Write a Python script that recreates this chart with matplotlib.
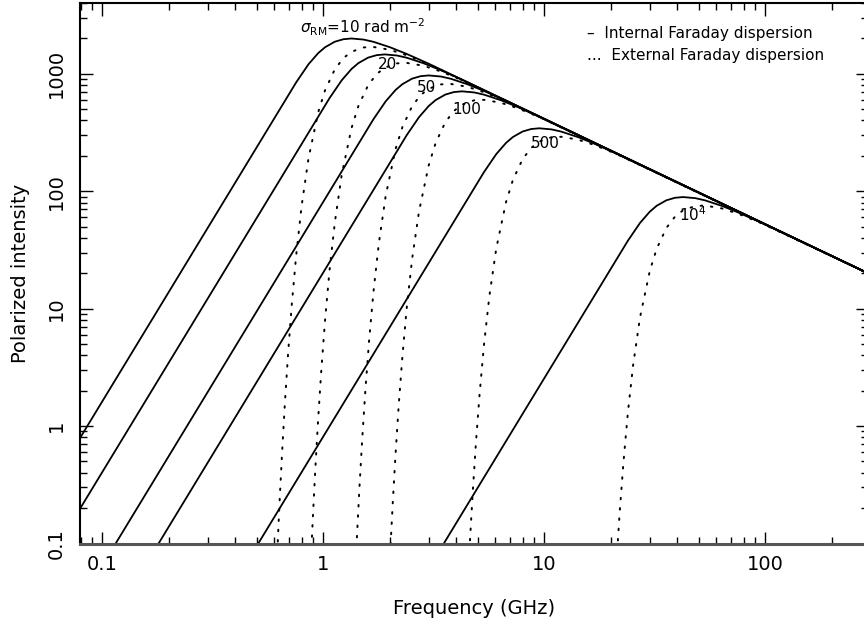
import matplotlib
matplotlib.use('Agg')
import matplotlib.pyplot as plt
from matplotlib.ticker import FixedLocator, NullFormatter

# Faraday dispersion curves, sigma_RM = 10, 20, 50, 100, 500, 1e4 rad m^-2
sigma_rm = [10, 20, 50, 100, 500, 1e4]

internal_freq = [
  [0.07, 0.7541, 0.8564, 0.9479, 1.0186, 1.1273, 1.2325, 1.3405, 1.5233, 1.6857, 2.0046, 2.3842, 2.9983, 280],
  [0.07, 1.0662, 1.2114, 1.3405, 1.4407, 1.5943, 1.7429, 1.8958, 2.1543, 2.3842, 2.8355, 3.3716, 4.2393, 280],
  [0.11, 1.6857, 1.9153, 2.1201, 2.2785, 2.5203, 2.7557, 2.9983, 3.4063, 3.7702, 4.4832, 5.3314, 6.7045, 280],
  [0.17, 2.3842, 2.7083, 2.9981, 3.2209, 3.5649, 3.8970, 4.2393, 4.8167, 5.3312, 6.3394, 7.5405, 9.4794, 280],
  [0.48, 5.3314, 6.0566, 6.7045, 7.2048, 7.9699, 8.7140, 9.4816, 10.771, 11.922, 14.177, 16.859, 21.201, 280],
  [3.3, 23.842, 27.083, 29.981, 32.209, 35.649, 38.970, 42.393, 48.167, 53.312, 63.394, 75.405, 94.794, 280],
]
internal_pol = [
  [0.537, 845.5, 1202, 1497, 1681, 1873, 1966, 1995, 1952, 1869, 1679, 1473, 1216, 20.7],
  [0.1343, 618.7, 879.7, 1096, 1231, 1371, 1439, 1460, 1429, 1368, 1229, 1078, 890.4, 20.7],
  [0.0872, 410.0, 582.4, 725.6, 814.6, 907.7, 953.0, 966.8, 946.2, 906.1, 813.9, 713.8, 589.6, 20.7],
  [0.0841, 300.0, 426.4, 531.2, 596.4, 664.4, 697.7, 707.8, 692.7, 663.2, 595.9, 522.6, 431.7, 20.7],
  [0.0840, 145.4, 206.7, 257.5, 289.1, 322.0, 338.1, 343.0, 335.7, 321.4, 288.8, 253.3, 209.2, 20.7],
  [0.0828, 37.76, 53.67, 66.87, 75.09, 83.64, 87.82, 89.09, 87.19, 83.49, 75.01, 65.78, 54.33, 20.7],
]

external_freq = [
  [0.6190, 0.6340, 0.6509, 0.6703, 0.6930, 0.7204, 0.7541, 0.7970, 0.8564, 0.9479, 1.0186, 1.1273,
   1.2325, 1.3405, 1.5233, 1.6857, 2.0046, 2.3842, 2.9983, 280],
  [0.8753, 0.8965, 0.9204, 0.9480, 0.9801, 1.0186, 1.0662, 1.1274, 1.2114, 1.3405, 1.4407, 1.5943,
   1.7429, 1.8958, 2.1543, 2.3842, 2.8355, 3.3716, 4.2393, 280],
  [1.3842, 1.4176, 1.4555, 1.4990, 1.5496, 1.6105, 1.6857, 1.7825, 1.9153, 2.1201, 2.2785, 2.5203,
   2.7557, 2.9983, 3.4063, 3.7702, 4.4832, 5.3314, 6.7045, 280],
  [2.0046, 2.0583, 2.1201, 2.1919, 2.2784, 2.3842, 2.5203, 2.7083, 2.9981, 3.2209, 3.5649, 3.8970,
   4.2393, 4.8167, 5.3312, 6.3394, 7.5405, 9.4794, 280],
  [4.4832, 4.6030, 4.7405, 4.9014, 5.0938, 5.3314, 5.6366, 6.0566, 6.7045, 7.2048, 7.9699, 8.7140,
   9.4816, 10.771, 11.922, 14.177, 16.859, 21.201, 280],
  [21.201, 21.919, 22.784, 23.842, 25.203, 27.083, 29.981, 32.209, 35.649, 38.970, 42.393, 48.167,
   53.312, 63.394, 75.405, 94.794, 280],
]
external_pol = [
  [0.0849, 0.2259, 0.5993, 1.587, 4.184, 10.99, 28.67, 74.12, 188.9, 468.6, 724.3, 1090,
   1358, 1538, 1674, 1689, 1597, 1436, 1204, 20.7],
  [0.0621, 0.1654, 0.4387, 1.161, 3.063, 8.043, 20.99, 54.26, 138.2, 343.0, 530.2, 797.7,
   993.9, 1126, 1225, 1236, 1169, 1051, 881.5, 20.7],
  [0.0411, 0.1095, 0.2905, 0.769, 2.029, 5.326, 13.90, 35.93, 91.53, 227.1, 351.1, 528.3,
   658.0, 745.2, 811.2, 818.3, 773.9, 696.1, 583.7, 20.7],
  [0.0801, 0.2127, 0.5630, 1.485, 3.899, 10.17, 26.30, 67.00, 166.3, 257.0, 386.7, 481.7,
   545.5, 593.9, 599.1, 566.6, 509.6, 427.4, 20.7],
  [0.0388, 0.1031, 0.2729, 0.7200, 1.890, 4.931, 12.75, 32.47, 80.58, 124.6, 187.4, 233.5,
   264.4, 287.9, 290.4, 274.6, 247.1, 207.1, 20.7],
  [0.0709, 0.1869, 0.4909, 1.281, 3.311, 8.438, 20.94, 32.35, 48.68, 60.66, 68.68, 74.77,
   75.43, 71.33, 64.15, 53.79, 20.7],
]

# curve labels (first one carries the sigma_RM text)
label_text = [r'$\sigma_{\rm RM}$=10 rad m$^{-2}$', '20', '50', '100', '500', r'10$^4$']
label_freq = [0.785, 1.96, 2.92, 4.47, 10.1, 47.1]
label_pol = [2500, 1205, 768, 499, 256, 63.7]

xtick_vals = [0.1, 1, 10, 100]
xtick_labels = ['0.1', '1', '10', '100']
ytick_vals = [0.1, 1, 10, 100, 1000]
ytick_labels = ['0.1', '1', '10', '100', '1000']

legend_lines = [u'\u2013  Internal Faraday dispersion', '...  External Faraday dispersion']


fig = plt.figure(figsize=(8.64, 6.3), dpi=100)
ax = fig.add_axes([80 / 864, 1 - 543.5 / 630, 788 / 864, 540.5 / 630])

for f, p in zip(internal_freq, internal_pol):
  ax.plot(f, p, color='black', lw=1.3, solid_capstyle='round')
for f, p in zip(external_freq, external_pol):
  ax.plot(f, p, color='black', lw=1.4, linestyle=(0, (0.8, 4.5)), dash_capstyle='round')

ax.set_xscale('log')
ax.set_yscale('log')
ax.set_xlim(0.0793, 291)
ax.set_ylim(0.1, 4000)

ax.xaxis.set_major_locator(FixedLocator(xtick_vals))
ax.set_xticklabels(xtick_labels)
ax.yaxis.set_major_locator(FixedLocator(ytick_vals))
ax.set_yticklabels(ytick_labels, rotation=90, va='center')
ax.xaxis.set_minor_formatter(NullFormatter())
ax.yaxis.set_minor_formatter(NullFormatter())

ax.tick_params(which='both', direction='in', top=True, right=True, labelsize=14)
ax.tick_params(which='major', length=9, width=1.0)
ax.tick_params(which='minor', length=5, width=1.0)
ax.tick_params(axis='x', pad=8)
ax.tick_params(axis='y', pad=10)
for side in ax.spines:
  ax.spines[side].set_linewidth(1.5)
ax.spines['bottom'].set_linewidth(2.2)
ax.spines['bottom'].set_color('#555555')

ax.set_xlabel('Frequency (GHz)', fontsize=14, labelpad=18)
ax.set_ylabel('Polarized intensity', fontsize=14, labelpad=12)

for i, (txt, f, p) in enumerate(zip(label_text, label_freq, label_pol)):
  ax.text(f, p, txt, fontsize=11, ha='left' if i == 0 else 'center', va='center')

for i, line in enumerate(legend_lines):
  ax.text(0.643, 0.944 - i * 0.041, line, transform=ax.transAxes, fontsize=11, ha='left', va='center')

fig.savefig('out.png', dpi=100)
